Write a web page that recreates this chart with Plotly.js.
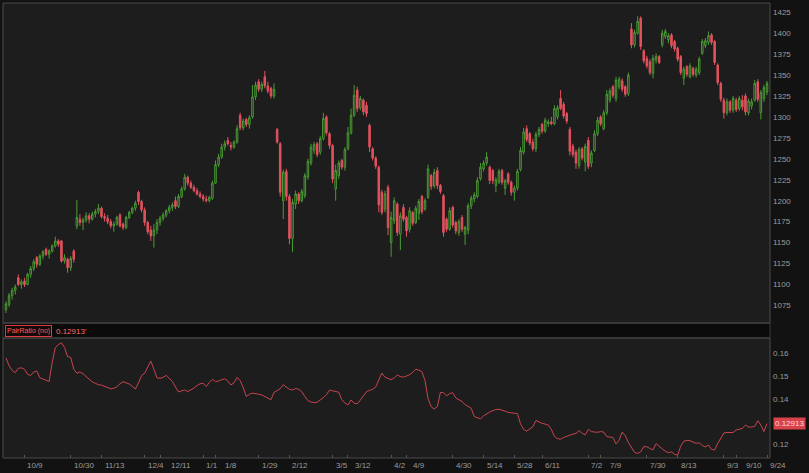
<!DOCTYPE html>
<html>
<head>
<meta charset="utf-8">
<script src="https://cdn.plot.ly/plotly-3.0.1.min.js"></script>
<style>html,body{margin:0;padding:0;background:#131313;}#chart{width:809px;height:473px;}</style>
</head>
<body>
<div id="chart"></div>
<script>
// ---- data ----
const startDate = '2017-09-29';
const endDate = '2018-09-24';
const holidays = ['2017-11-23','2017-12-25','2018-01-01','2018-01-15','2018-02-19','2018-03-30','2018-05-28','2018-07-04','2018-09-03'];

const open = [1070,1076,1087,1093,1108,1100,1104,1100,1112,1119,
1132,1124,1134,1142,1136,1140,1146,1152,1152,1128,
1130,1120,1140,1170,1178,1174,1177,1182,1178,1184,
1187,1191,1181,1179,1175,1170,1172,1183,1172,1168,
1180,1186,1191,1210,1199,1189,1174,1165,
1158,1165,1174,1179,1183,1188,1192,1200,1193,1205,1214,1228,
1221,1216,1212,1208,1205,1202,1200,1203,1221,1243,
1252,1264,1272,1266,1264,1270,1302,1287,1297,1291,
1300,1324,1342,1333,1348,1337,1334,1325,1285,1268,
1200,1235,1205,1155,1196,1208,1200,1206,1228,1245,
1260,1268,1258,1274,1300,1280,1266,1214,1230,1248,
1240,1262,1281,1302,1332,1311,1320,1314,1290,1262,
1251,1240,1210,1190,1216,1150,1176,1196,1160,1192,
1180,1166,1186,1174,1185,1205,1190,1204,1230,1218,
1236,1218,1206,1178,1166,1192,1174,1162,1180,1160,
1165,1194,1202,1205,1226,1238,1245,1240,1236,1218,
1222,1236,1215,1232,1222,1210,1215,1237,1258,
1286,1280,1270,1262,1279,1291,1283,1292,1294,1292,1300,
1322,1315,1304,1285,1265,1258,1242,1262,1246,1272,
1245,1260,1280,1300,1286,1305,1320,1336,1322,1336,
1343,1336,1328,1405,1386,1400,1418,1379,1370,1366,
1352,1368,1372,1386,1396,1392,1398,1390,1382,1372,
1346,1360,1348,1358,1350,1353,1376,1385,1389,1398,
1390,1362,1340,1320,1305,1318,1308,1320,1310,1320,
1325,1305,1313,1320,1342,1305,1322,1330];

const high = [1080,1090,1096,1100,1112,1106,1108,1114,1122,1130,
1134,1136,1141,1144,1142,1148,1157,1154,1153,1136,
1132,1134,1142,1201,1184,1180,1186,1185,1187,1190,
1196,1193,1185,1183,1178,1175,1182,1185,1174,1182,
1188,1193,1200,1212,1201,1192,1176,1170,
1172,1178,1182,1186,1190,1195,1198,1205,1208,1217,1232,1230,
1224,1219,1215,1211,1208,1206,1206,1224,1248,1256,
1268,1272,1276,1270,1272,1290,1305,1298,1299,1302,
1338,1342,1345,1342,1355,1342,1336,1340,1287,1270,
1237,1238,1208,1202,1212,1210,1214,1233,1250,1268,
1270,1270,1277,1305,1302,1282,1268,1243,1248,1250,
1264,1288,1310,1338,1336,1325,1322,1318,1292,1264,
1253,1242,1213,1212,1219,1187,1204,1198,1186,1196,
1182,1192,1188,1194,1202,1207,1203,1243,1232,1238,
1240,1220,1208,1180,1192,1194,1176,1178,1183,1170,
1197,1206,1210,1228,1245,1248,1258,1242,1238,1228,
1238,1238,1226,1234,1224,1218,1238,1264,1287,
1290,1282,1274,1282,1288,1293,1299,1297,1300,1314,1314,
1332,1318,1306,1288,1268,1261,1264,1264,1268,1276,
1260,1284,1300,1302,1308,1332,1334,1338,1348,1348,
1346,1338,1353,1412,1404,1420,1420,1381,1373,1369,
1374,1376,1374,1404,1405,1400,1400,1392,1384,1374,
1360,1362,1364,1360,1360,1372,1393,1394,1402,1400,
1392,1364,1342,1323,1322,1320,1325,1323,1325,1326,
1328,1322,1322,1344,1345,1332,1338,1343];

const low = [1066,1073,1082,1088,1098,1095,1097,1099,1108,1116,
1120,1122,1130,1134,1131,1138,1144,1145,1126,1125,
1114,1116,1126,1166,1170,1165,1174,1173,1176,1180,
1184,1179,1175,1172,1167,1163,1170,1168,1165,1166,
1178,1184,1188,1195,1186,1170,1160,1152,
1144,1160,1170,1176,1180,1185,1188,1190,1191,1203,1212,1218,
1214,1210,1206,1203,1199,1198,1198,1201,1220,1240,
1250,1260,1266,1260,1262,1268,1284,1284,1288,1286,
1298,1320,1330,1330,1334,1328,1322,1322,1268,1205,
1178,1200,1148,1139,1190,1196,1198,1203,1225,1242,
1256,1252,1255,1272,1278,1262,1221,1200,1226,1237,
1236,1260,1279,1300,1306,1308,1302,1300,1258,1248,
1238,1186,1183,1186,1159,1133,1172,1158,1141,1175,
1157,1162,1170,1172,1177,1184,1188,1202,1213,1215,
1214,1208,1157,1163,1164,1168,1160,1158,1163,1147,
1160,1190,1198,1203,1224,1235,1242,1220,1220,1210,
1220,1219,1207,1219,1206,1200,1212,1235,1255,
1270,1266,1259,1258,1276,1280,1281,1288,1290,1290,1297,
1308,1298,1292,1254,1252,1238,1238,1248,1235,1238,
1240,1258,1277,1289,1284,1302,1317,1323,1318,1333,
1330,1324,1325,1382,1383,1398,1380,1364,1358,1350,
1346,1364,1363,1383,1393,1388,1382,1378,1366,1350,
1338,1348,1346,1348,1347,1350,1374,1382,1386,1386,
1362,1338,1318,1298,1302,1305,1305,1306,1307,1308,
1302,1302,1309,1318,1318,1297,1318,1326];

const close = [1077,1087,1093,1097,1100,1103,1100,1112,1119,1127,
1124,1134,1139,1136,1140,1146,1152,1148,1128,1132,
1120,1131,1130,1180,1174,1177,1182,1178,1184,1187,
1191,1181,1179,1175,1170,1172,1180,1170,1168,1180,
1186,1191,1197,1199,1189,1174,1163,1158,
1165,1174,1179,1183,1188,1192,1195,1193,1205,1214,1228,1221,
1216,1212,1208,1205,1202,1200,1204,1221,1243,1252,
1264,1268,1268,1264,1270,1286,1287,1295,1291,1299,
1324,1338,1333,1339,1337,1331,1325,1333,1270,1210,
1234,1205,1155,1198,1208,1200,1211,1230,1247,1264,
1267,1255,1274,1298,1281,1266,1226,1236,1245,1240,
1261,1281,1302,1326,1310,1322,1306,1304,1264,1251,
1241,1195,1186,1208,1168,1180,1200,1162,1182,1178,
1164,1188,1173,1191,1199,1187,1200,1238,1217,1234,
1218,1211,1162,1166,1188,1171,1164,1175,1166,1168,
1194,1203,1207,1224,1240,1245,1252,1224,1224,1225,
1235,1222,1224,1222,1210,1215,1235,1260,1282,
1273,1269,1262,1279,1285,1283,1296,1294,1292,1310,1311,
1310,1301,1295,1259,1255,1245,1261,1251,1265,1241,
1257,1280,1296,1292,1305,1327,1331,1326,1344,1345,
1333,1327,1350,1386,1401,1414,1384,1367,1361,1353,
1370,1372,1365,1400,1402,1397,1385,1381,1369,1353,
1357,1351,1361,1351,1357,1369,1390,1391,1397,1389,
1365,1341,1321,1305,1318,1308,1322,1309,1322,1312,
1306,1319,1318,1340,1321,1329,1335,1340];

const pairRatio = [0.1580,0.1545,0.1525,0.1515,0.1534,0.1536,0.1530,0.1508,0.1502,0.1518,
0.1522,0.1492,0.1487,0.1482,0.1476,0.1560,0.1625,0.1638,0.1646,0.1625,
0.1585,0.1582,0.1530,0.1512,0.1518,0.1510,0.1498,0.1482,0.1474,0.1468,
0.1462,0.1460,0.1455,0.1450,0.1444,0.1446,0.1453,0.1466,0.1475,0.1470,
0.1465,0.1455,0.1443,0.1470,0.1502,0.1512,0.1540,0.1566,0.1530,0.1492,
0.1490,0.1494,0.1503,0.1490,0.1476,0.1452,0.1430,0.1435,0.1439,0.1432,
0.1438,0.1447,0.1458,0.1466,0.1468,0.1454,0.1472,0.1486,0.1476,0.1478,
0.1484,0.1488,0.1478,0.1461,0.1470,0.1494,0.1480,0.1450,0.1410,0.1420,
0.1425,0.1421,0.1420,0.1417,0.1410,0.1402,0.1396,0.1428,0.1436,0.1444,
0.1462,0.1450,0.1441,0.1439,0.1445,0.1442,0.1431,0.1410,0.1392,0.1386,
0.1383,0.1385,0.1394,0.1405,0.1418,0.1438,0.1435,0.1432,0.1429,0.1396,
0.1382,0.1373,0.1395,0.1380,0.1378,0.1394,0.1412,0.1431,0.1437,0.1442,
0.1452,0.1480,0.1513,0.1495,0.1488,0.1484,0.1492,0.1504,0.1498,0.1495,
0.1500,0.1506,0.1516,0.1530,0.1526,0.1519,0.1480,0.1400,0.1365,0.1355,
0.1366,0.1428,0.1427,0.1413,0.1423,0.1427,0.1404,0.1395,0.1388,0.1375,
0.1366,0.1358,0.1322,0.1316,0.1312,0.1325,0.1335,0.1342,0.1348,0.1353,
0.1354,0.1351,0.1346,0.1340,0.1338,0.1337,0.1335,0.1290,0.1265,0.1258,
0.1266,0.1277,0.1305,0.1298,0.1292,0.1289,0.1285,0.1266,0.1235,0.1225,
0.1223,0.1230,0.1236,0.1241,0.1245,0.1248,0.1260,0.1248,0.1242,0.1266,
0.1256,0.1254,0.1253,0.1256,0.1254,0.1234,0.1231,0.1230,0.1202,0.1218,
0.1254,0.1238,0.1208,0.1184,0.1165,0.1160,0.1167,0.1190,0.1189,0.1182,
0.1175,0.1203,0.1190,0.1180,0.1170,0.1163,0.1167,0.1156,0.1153,0.1192,
0.1214,0.1217,0.1216,0.1210,0.1204,0.1207,0.1195,0.1189,0.1197,0.1178,
0.1175,0.1204,0.1230,0.1250,0.1252,0.1251,0.1252,0.1263,0.1268,0.1270,
0.1285,0.1276,0.1276,0.1279,0.1304,0.1285,0.1256,0.12913];

const tickLabels = ['10/9','10/30','11/13','12/4','12/11','1/1','1/8','1/29','2/12','3/5','3/12','4/2','4/9','4/30','5/14','5/28','6/11','7/2','7/9','7/30','8/13','9/3','9/10','9/24'];
const tickDates = ['2017-10-09','2017-10-30','2017-11-13','2017-12-04','2017-12-11','2018-01-01','2018-01-08','2018-01-29','2018-02-12','2018-03-05','2018-03-12','2018-04-02','2018-04-09','2018-04-30','2018-05-14','2018-05-28','2018-06-11','2018-07-02','2018-07-09','2018-07-30','2018-08-13','2018-09-03','2018-09-10','2018-09-24'];
const ratioTicks = [0.12, 0.14, 0.15, 0.16];
const lastRatioText = '0.12913';

// ---- trading-day categories ----
function iso(d){return d.toISOString().slice(0,10);}
let dates = [];
for (let d = new Date(startDate+'T00:00:00Z'); iso(d) <= endDate; d.setUTCDate(d.getUTCDate()+1)) {
  const wd = d.getUTCDay();
  const s = iso(d);
  if (wd === 0 || wd === 6 || holidays.includes(s)) continue;
  dates.push(s);
}
const N = close.length;
if (dates.length > N) dates = dates.slice(dates.length - N);

const tickvals = [], ticktext = [], tickIdx = [];
tickDates.forEach((td, k) => {
  const i = dates.findIndex(x => x >= td);
  if (i >= 0) { tickvals.push(dates[i]); ticktext.push(tickLabels[k]); tickIdx.push(i); }
});

const GREEN = '#4a9c34', RED = '#e2525e';
const mainDom = [0.2967, 1], lowDom = [0, 0.2637];
const FONT = 'Liberation Sans, Arial, sans-serif';
const axFont = {family: FONT, size: 8, color: '#9c9c9c'};
const W = 809, H = 473, M = {l: 3, r: 39, t: 3, b: 15, pad: 0};
const xRange = [-0.97, N - 0.03];

// date labels sit just right of their tick and are pushed apart when they would collide
const plotW = W - M.l - M.r;
const ctx = document.createElement('canvas').getContext('2d');
ctx.font = '8px ' + FONT;
const labelAnn = [];
let prevRight = -Infinity;
tickIdx.forEach((i, k) => {
  const tickPx = (i - xRange[0]) / (xRange[1] - xRange[0]) * plotW;
  const w = ctx.measureText(ticktext[k]).width;
  let left = Math.max(tickPx + 1, prevRight + 8);
  prevRight = left + w;
  labelAnn.push({xref: 'paper', yref: 'paper', x: left / plotW, y: 0, xanchor: 'left', yanchor: 'top',
    yshift: -1, text: ticktext[k], showarrow: false, font: axFont});
});

const traces = [
  {
    type: 'candlestick', x: dates, open: open, high: high, low: low, close: close,
    xaxis: 'x', yaxis: 'y',
    increasing: {line: {color: GREEN, width: 1}, fillcolor: 'rgba(0,0,0,0)'},
    decreasing: {line: {color: RED, width: 1}, fillcolor: RED},
    whiskerwidth: 0, hoverinfo: 'skip', showlegend: false
  },
  {
    type: 'scatter', mode: 'lines', x: dates, y: pairRatio,
    xaxis: 'x', yaxis: 'y2',
    line: {color: '#c8444f', width: 1}, hoverinfo: 'skip', showlegend: false
  }
];

const layout = {
  width: W, height: H,
  margin: M,
  paper_bgcolor: '#121212',
  plot_bgcolor: '#1d1d1d',
  showlegend: false,
  xaxis: {
    type: 'category', anchor: 'y2', range: xRange,
    rangeslider: {visible: false},
    tickmode: 'array', tickvals: tickvals, ticktext: ticktext,
    showticklabels: false,
    ticks: 'inside', ticklen: 3, tickcolor: '#555', tickwidth: 1,
    showgrid: false, zeroline: false, showline: false
  },
  yaxis: {
    domain: mainDom, range: [1054, 1436], side: 'right', anchor: 'x',
    tick0: 1075, dtick: 25, showgrid: false, zeroline: false,
    ticks: '', tickfont: axFont, ticklabelstandoff: 2, automargin: false
  },
  yaxis2: {
    domain: lowDom, range: [0.114, 0.1667], side: 'right', anchor: 'x',
    tickmode: 'array', tickvals: ratioTicks, tickformat: '.2f', showgrid: false, zeroline: false,
    ticks: '', tickfont: axFont, ticklabelstandoff: 2, automargin: false
  },
  shapes: [
    {type: 'rect', xref: 'paper', yref: 'paper', x0: 0, x1: 1, y0: lowDom[1], y1: mainDom[0],
      fillcolor: '#0b0b0b', line: {color: '#3a3a3a', width: 1}, layer: 'below'},
    {type: 'rect', xref: 'paper', yref: 'paper', x0: 0, x1: 1, y0: mainDom[0], y1: mainDom[1],
      fillcolor: 'rgba(0,0,0,0)', line: {color: '#4a4a4a', width: 1}},
    {type: 'rect', xref: 'paper', yref: 'paper', x0: 0, x1: 1, y0: lowDom[0], y1: lowDom[1],
      fillcolor: 'rgba(0,0,0,0)', line: {color: '#4a4a4a', width: 1}}
  ],
  annotations: [
    {xref: 'paper', yref: 'paper', x: 0.002, y: 0.279, xanchor: 'left', yanchor: 'middle',
      text: 'PairRatio (no)', showarrow: false,
      font: {family: FONT, size: 7, color: '#ff5e5e'},
      bgcolor: '#160909', bordercolor: '#e23a3f', borderwidth: 1, borderpad: 1},
    {xref: 'paper', yref: 'paper', x: 0.066, y: 0.279, xanchor: 'left', yanchor: 'middle',
      text: lastRatioText + "'", showarrow: false,
      font: {family: FONT, size: 8, color: '#ff6a6a'}},
    {xref: 'paper', yref: 'y2', x: 1, y: pairRatio[N - 1], xanchor: 'left', yanchor: 'middle',
      xshift: 3, text: lastRatioText, showarrow: false,
      font: {family: FONT, size: 8, color: '#ffd6d6'},
      bgcolor: '#d8434b', borderpad: 1}
  ].concat(labelAnn)
};

Plotly.newPlot('chart', traces, layout, {staticPlot: true, displayModeBar: false});
</script>
</body>
</html>
